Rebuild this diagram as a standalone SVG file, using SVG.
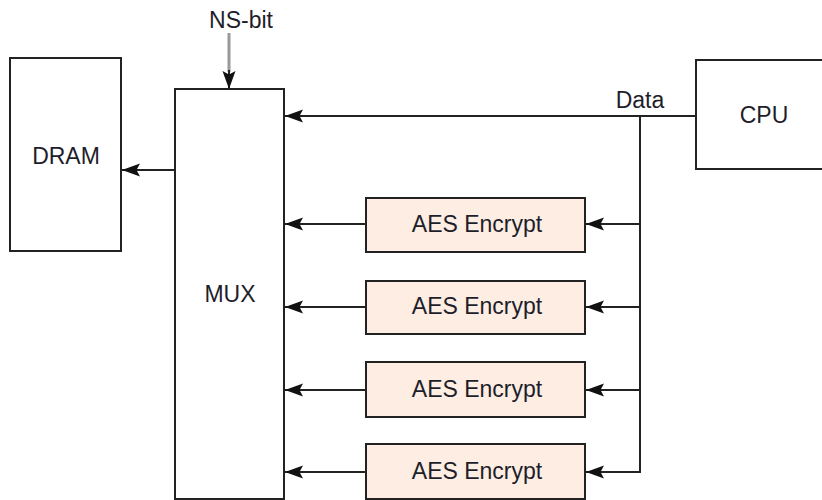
<svg xmlns="http://www.w3.org/2000/svg" width="822" height="500" viewBox="0 0 822 500">
<style>
.box{fill:#ffffff;stroke:#222222;stroke-width:2}
.aes{fill:#fdede2;stroke:#222222;stroke-width:2}
.lbl{font-family:"Liberation Sans",Arial,sans-serif;font-size:23px;fill:#1e1e2a;text-anchor:middle}
.ln{fill:none;stroke:#222222;stroke-width:2}
</style>
<defs>
<marker id="ah" markerUnits="userSpaceOnUse" markerWidth="18" markerHeight="14" refX="18" refY="7" orient="auto">
<path d="M0,0.5 L18,7 L0,13.5 L3.5,7 z" fill="#111111"/>
</marker>
</defs>
<g id="dram"><rect class="box" x="10" y="58" width="111" height="193"/><text class="lbl" x="66" y="164">DRAM</text></g>
<g id="mux"><rect class="box" x="175" y="89" width="109" height="410"/><text class="lbl" x="230" y="302">MUX</text></g>
<g id="cpu"><rect class="box" x="696" y="60" width="140" height="109"/><text class="lbl" x="764" y="123">CPU</text></g>
<g id="aes1"><rect class="aes" x="366" y="198" width="219" height="54"/><text class="lbl" x="477" y="232">AES Encrypt</text></g>
<g id="aes2"><rect class="aes" x="366" y="281" width="219" height="53"/><text class="lbl" x="477" y="314">AES Encrypt</text></g>
<g id="aes3"><rect class="aes" x="366" y="362" width="219" height="55"/><text class="lbl" x="477" y="397">AES Encrypt</text></g>
<g id="aes4"><rect class="aes" x="366" y="444" width="219" height="55"/><text class="lbl" x="477" y="479">AES Encrypt</text></g>
<g id="labels">
<text class="lbl" x="241" y="28">NS-bit</text>
<text class="lbl" x="640" y="108">Data</text>
</g>
<g id="connectors">
<line x1="229" y1="33" x2="229" y2="72" stroke="#999999" stroke-width="3"/>
<line class="ln" x1="229" y1="70" x2="229" y2="89" marker-end="url(#ah)"/>
<line class="ln" x1="175" y1="170" x2="122" y2="170" marker-end="url(#ah)"/>
<line class="ln" x1="696" y1="116" x2="285" y2="116" marker-end="url(#ah)"/>
<polyline class="ln" points="640,116 640,472"/>
<line class="ln" x1="640" y1="224" x2="586" y2="224" marker-end="url(#ah)"/>
<line class="ln" x1="640" y1="307" x2="586" y2="307" marker-end="url(#ah)"/>
<line class="ln" x1="640" y1="390" x2="586" y2="390" marker-end="url(#ah)"/>
<line class="ln" x1="641" y1="472" x2="586" y2="472" marker-end="url(#ah)"/>
<line class="ln" x1="366" y1="224" x2="285" y2="224" marker-end="url(#ah)"/>
<line class="ln" x1="366" y1="307" x2="285" y2="307" marker-end="url(#ah)"/>
<line class="ln" x1="366" y1="390" x2="285" y2="390" marker-end="url(#ah)"/>
<line class="ln" x1="366" y1="472" x2="285" y2="472" marker-end="url(#ah)"/>
</g>
</svg>
